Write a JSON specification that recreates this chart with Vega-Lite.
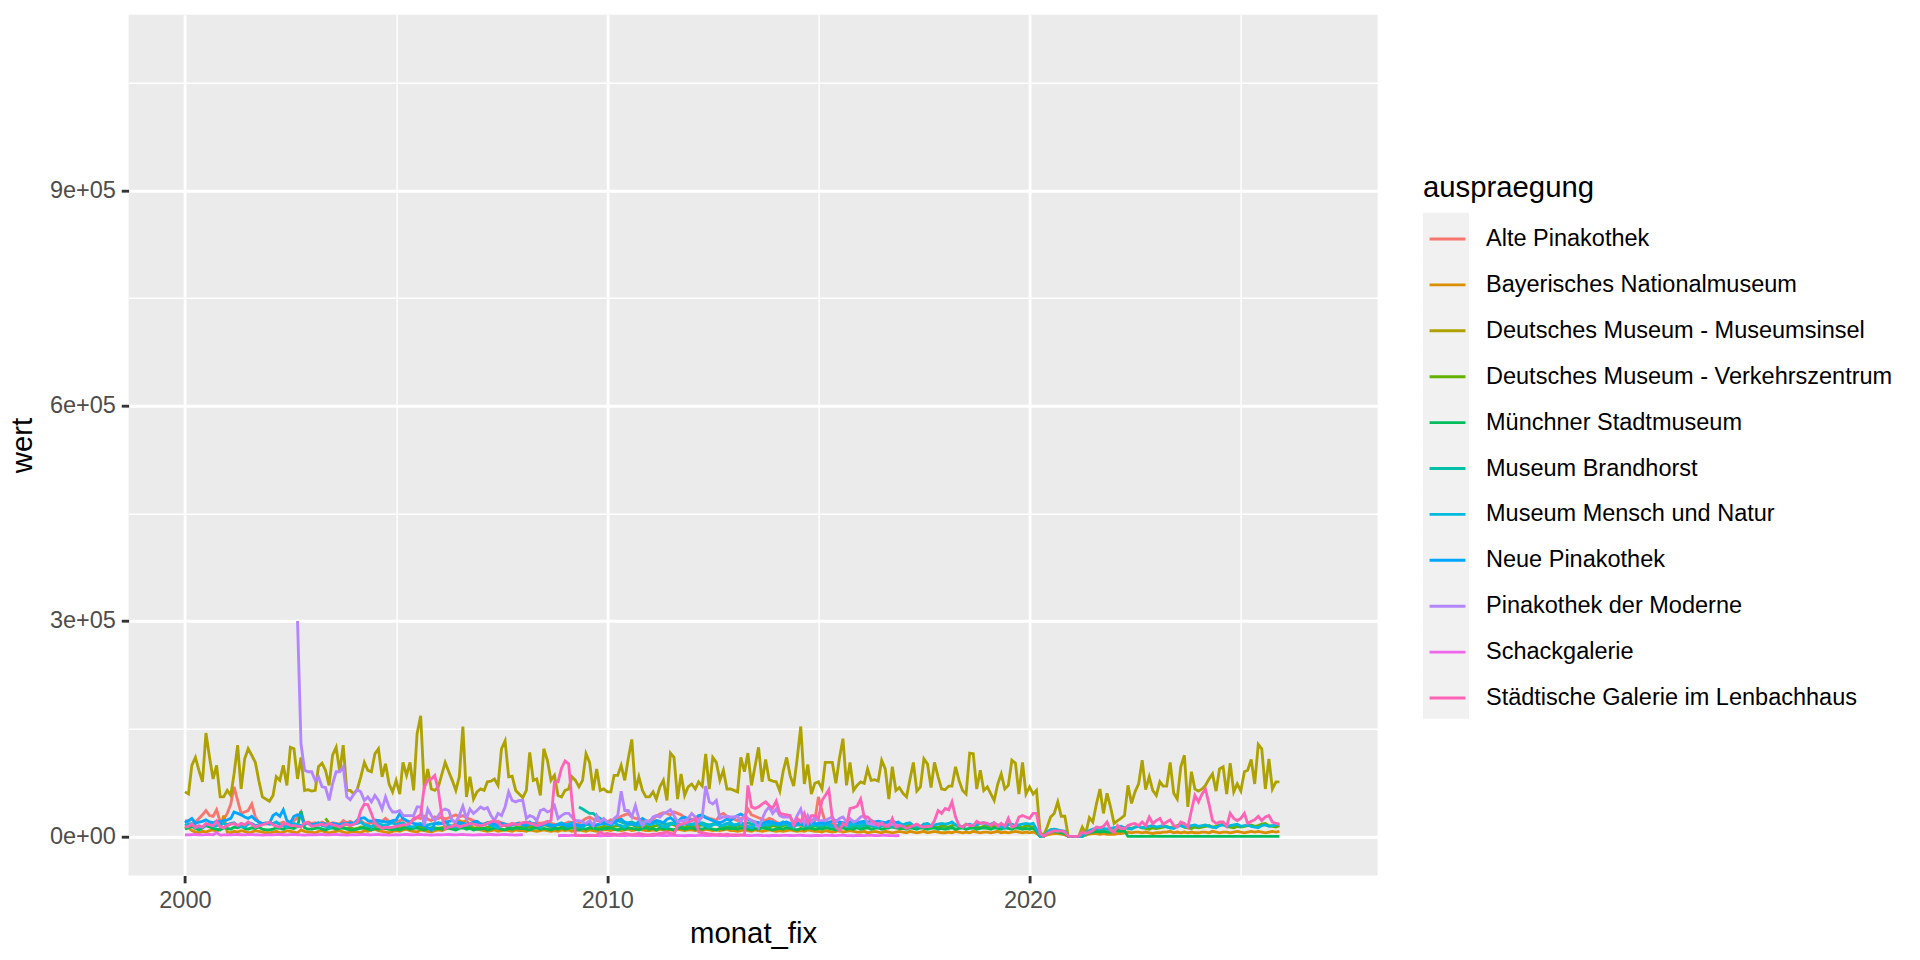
{
  "$schema": "https://vega.github.io/schema/vega-lite/v6.json",
  "width": 1249,
  "height": 860.8,
  "autosize": {"type": "none"},
  "padding": {"left": 128.6, "top": 14.7, "right": 542.4, "bottom": 84.5},
  "background": "white",
  "config": {
    "font": "Liberation Sans",
    "view": {"fill": "#EBEBEB", "stroke": null},
    "axis": {
      "domain": false,
      "gridColor": "white",
      "labelFont": "Liberation Sans",
      "labelFontSize": 23.5,
      "labelColor": "#4D4D4D",
      "tickColor": "#333333",
      "tickSize": 7.33,
      "tickWidth": 2.85,
      "labelPadding": 5.87,
      "titleFont": "Liberation Sans",
      "titleFontSize": 29.3,
      "titleFontWeight": "normal",
      "titleColor": "black",
      "titlePadding": 7.3
    },
    "legend": {"padding": 0, "rowPadding": 0}
  },
  "data": {
    "values": [
      {"m":"2000-01","a":22000,"b":14000,"c":62000,"e":10000,"g":15000,"h":19000,"j":2200,"k":13000},
      {"m":"2000-02","a":21000,"b":12000,"c":59000,"e":12000,"g":17000,"h":22000,"j":2000,"k":14000},
      {"m":"2000-03","a":24000,"b":8000,"c":99000,"e":14000,"g":18000,"h":25000,"j":2400,"k":17000},
      {"m":"2000-04","a":20000,"b":6000,"c":110000,"e":11000,"g":14000,"h":18000,"j":2600,"k":12000},
      {"m":"2000-05","a":25000,"b":5000,"c":92000,"e":9000,"g":13000,"h":20000,"j":2300,"k":15000},
      {"m":"2000-06","a":30000,"b":7000,"c":76000,"e":12000,"g":12000,"h":21000,"j":2100,"k":13000},
      {"m":"2000-07","a":36000,"b":6000,"c":144000,"e":15000,"g":16000,"h":23000,"j":2500,"k":18000},
      {"m":"2000-08","a":29000,"b":8000,"c":110000,"e":13000,"g":17000,"h":20000,"j":2700,"k":16000},
      {"m":"2000-09","a":28000,"b":9000,"c":80000,"e":11000,"g":14000,"h":19000,"j":2200,"k":15000},
      {"m":"2000-10","a":37000,"b":7000,"c":99000,"e":10000,"g":15000,"h":21000,"j":5000,"k":21000},
      {"m":"2000-11","a":20000,"b":10000,"c":55000,"e":9000,"g":16000,"h":20000,"j":1800,"k":13000},
      {"m":"2000-12","a":24000,"b":29000,"c":55000,"e":12000,"g":18000,"h":22000,"j":2100,"k":12000},
      {"m":"2001-01","a":32000,"b":6000,"c":64000,"e":11000,"g":16000,"h":23000,"j":2200,"k":15000},
      {"m":"2001-02","a":45000,"b":5000,"c":57000,"e":10000,"g":18000,"h":25000,"j":2000,"k":17000},
      {"m":"2001-03","a":69000,"b":7000,"c":87000,"e":13000,"g":19000,"h":34000,"j":2400,"k":18000},
      {"m":"2001-04","a":50000,"b":6000,"c":127000,"e":12000,"g":15000,"h":32000,"j":2600,"k":15000},
      {"m":"2001-05","a":32000,"b":8000,"c":66000,"e":14000,"g":14000,"h":30000,"j":2300,"k":18000},
      {"m":"2001-06","a":34000,"b":7000,"c":108000,"e":11000,"g":13000,"h":27000,"j":2100,"k":16000},
      {"m":"2001-07","a":36000,"b":5000,"c":122000,"e":10000,"g":17000,"h":25000,"j":2500,"k":20000},
      {"m":"2001-08","a":45000,"b":6000,"c":113000,"e":12000,"g":18000,"h":28000,"j":2700,"k":17000},
      {"m":"2001-09","a":27000,"b":8000,"c":103000,"e":11000,"g":15000,"h":23000,"j":2200,"k":13000},
      {"m":"2001-10","a":20000,"b":7000,"c":78000,"e":13000,"g":16000,"h":20000,"j":2000,"k":15000},
      {"m":"2001-11","a":18000,"b":6000,"c":55000,"e":10000,"g":17000,"h":18000,"j":1800,"k":16000},
      {"m":"2001-12","a":17000,"b":5000,"c":52000,"e":9000,"g":19000,"h":18000,"j":2100,"k":18000},
      {"m":"2002-01","a":18000,"b":5000,"c":49000,"e":9000,"g":17000,"h":18000,"j":2200,"k":20000},
      {"m":"2002-02","a":17000,"b":6000,"c":57000,"e":10000,"g":18000,"h":29000,"j":2000,"k":16000},
      {"m":"2002-03","a":19000,"b":7000,"c":83000,"e":12000,"g":20000,"h":32000,"j":2400,"k":14000},
      {"m":"2002-04","a":18000,"b":5000,"c":78000,"e":11000,"g":16000,"h":28000,"j":2600,"k":13000},
      {"m":"2002-05","a":20000,"b":6000,"c":99000,"e":10000,"g":15000,"h":37000,"j":2300,"k":17000},
      {"m":"2002-06","a":17000,"b":8000,"c":71000,"e":13000,"g":13000,"h":22000,"j":2100,"k":18000},
      {"m":"2002-07","a":18000,"b":7000,"c":124000,"e":12000,"g":17000,"h":19000,"j":2500,"k":15000},
      {"m":"2002-08","a":22000,"b":6000,"c":122000,"e":11000,"g":18000,"h":28000,"j":2700,"k":15000},
      {"m":"2002-09","a":26000,"b":5000,"c":80000,"e":14000,"g":16000,"h":30000,"i":300000,"j":2200,"k":14000},
      {"m":"2002-10","a":34000,"b":9000,"c":110000,"e":35000,"g":15000,"h":29000,"i":129000,"j":2000,"k":13000},
      {"m":"2002-11","a":18000,"b":7000,"c":64000,"e":12000,"g":17000,"h":17000,"i":92000,"j":1800,"k":19000},
      {"m":"2002-12","a":20000,"b":6000,"c":65000,"e":10000,"g":18000,"h":18000,"i":90000,"j":2100,"k":18000},
      {"m":"2003-01","a":18000,"b":6000,"c":63000,"e":10000,"g":16000,"h":16000,"i":90000,"j":2200,"k":14000},
      {"m":"2003-02","a":19000,"b":5000,"c":64000,"e":11000,"g":17000,"h":17000,"i":78000,"j":2000,"k":15000},
      {"m":"2003-03","a":17000,"b":7000,"c":97000,"e":12000,"g":19000,"h":16000,"i":83000,"j":2400,"k":16000},
      {"m":"2003-04","a":20000,"b":8000,"c":102000,"e":10000,"g":15000,"h":18000,"i":69000,"j":2600,"k":17000},
      {"m":"2003-05","a":18000,"b":6000,"c":92000,"d":25000,"e":9000,"g":14000,"h":17000,"i":68000,"j":2300,"k":15000},
      {"m":"2003-06","a":16000,"b":5000,"c":71000,"d":18000,"e":11000,"g":12000,"h":16000,"i":50000,"j":2100,"k":18000},
      {"m":"2003-07","a":19000,"b":6000,"c":113000,"d":15000,"e":12000,"g":16000,"h":18000,"i":73000,"j":2500,"k":16000},
      {"m":"2003-08","a":18000,"b":7000,"c":124000,"d":14000,"e":10000,"g":17000,"h":17000,"i":90000,"j":2700,"k":15000},
      {"m":"2003-09","a":17000,"b":8000,"c":90000,"d":13000,"e":11000,"g":15000,"h":16000,"i":90000,"j":2200,"k":13000},
      {"m":"2003-10","a":22000,"b":6000,"c":127000,"d":12000,"e":12000,"g":16000,"h":18000,"i":97000,"j":2000,"k":16000},
      {"m":"2003-11","a":19000,"b":5000,"c":64000,"d":11000,"e":10000,"g":17000,"h":17000,"i":55000,"j":1800,"k":17000},
      {"m":"2003-12","a":21000,"b":6000,"c":64000,"d":12000,"e":9000,"g":18000,"h":19000,"i":51000,"j":2100,"k":15000},
      {"m":"2004-01","a":18000,"b":7000,"c":59000,"d":10000,"e":9000,"g":17000,"h":18000,"i":59000,"j":2200,"k":17000},
      {"m":"2004-02","a":20000,"b":6000,"c":66000,"d":11000,"e":10000,"g":18000,"h":23000,"i":65000,"j":2000,"k":20000},
      {"m":"2004-03","a":22000,"b":5000,"c":83000,"d":13000,"e":11000,"g":20000,"h":25000,"i":62000,"j":2400,"k":36000},
      {"m":"2004-04","a":18000,"b":8000,"c":103000,"d":12000,"e":12000,"g":16000,"h":26000,"i":50000,"j":2600,"k":45000},
      {"m":"2004-05","a":17000,"b":7000,"c":92000,"d":11000,"e":10000,"g":15000,"h":22000,"i":55000,"j":2300,"k":44000},
      {"m":"2004-06","a":19000,"b":9000,"c":90000,"d":14000,"e":9000,"g":13000,"h":21000,"i":48000,"j":2100,"k":32000},
      {"m":"2004-07","a":20000,"b":10000,"c":115000,"d":15000,"e":11000,"g":17000,"h":23000,"i":57000,"j":2500,"k":18000},
      {"m":"2004-08","a":22000,"b":8000,"c":122000,"d":14000,"e":10000,"g":18000,"h":22000,"i":50000,"j":2700,"k":14000},
      {"m":"2004-09","a":21000,"b":7000,"c":83000,"d":12000,"e":12000,"g":16000,"h":21000,"i":38000,"j":2200,"k":11000},
      {"m":"2004-10","a":25000,"b":6000,"c":101000,"d":11000,"e":11000,"g":15000,"h":20000,"i":55000,"j":2000,"k":13000},
      {"m":"2004-11","a":21000,"b":5000,"c":73000,"d":10000,"e":10000,"g":17000,"h":20000,"i":41000,"j":1800,"k":12000},
      {"m":"2004-12","a":19000,"b":7000,"c":62000,"d":11000,"e":9000,"g":19000,"h":22000,"i":34000,"j":2100,"k":13000},
      {"m":"2005-01","a":20000,"b":8000,"c":78000,"d":11000,"e":10000,"g":16000,"h":23000,"i":34000,"j":2200,"k":14000},
      {"m":"2005-02","a":22000,"b":7000,"c":59000,"d":12000,"e":9000,"g":18000,"h":32000,"i":36000,"j":2000,"k":15000},
      {"m":"2005-03","a":24000,"b":9000,"c":103000,"d":14000,"e":11000,"g":19000,"h":25000,"i":29000,"j":2400,"k":16000},
      {"m":"2005-04","a":21000,"b":10000,"c":85000,"d":13000,"e":12000,"g":15000,"h":22000,"i":29000,"j":2600,"k":16000},
      {"m":"2005-05","a":20000,"b":8000,"c":103000,"d":12000,"e":10000,"g":14000,"h":20000,"i":29000,"j":2300,"k":18000},
      {"m":"2005-06","a":23000,"b":7000,"c":64000,"d":13000,"e":11000,"g":13000,"h":18000,"i":29000,"j":2100,"k":25000},
      {"m":"2005-07","a":26000,"b":6000,"c":143000,"d":15000,"e":12000,"g":17000,"h":17000,"i":41000,"j":2500,"k":27000},
      {"m":"2005-08","a":25000,"b":9000,"c":168000,"d":14000,"e":10000,"g":18000,"h":16000,"i":41000,"j":2700,"k":30000},
      {"m":"2005-09","a":28000,"b":8000,"c":66000,"d":12000,"e":9000,"g":15000,"h":15000,"i":15000,"j":2200,"k":69000},
      {"m":"2005-10","a":24000,"b":7000,"c":94000,"d":11000,"e":11000,"g":16000,"h":12000,"i":38000,"j":2000,"k":78000},
      {"m":"2005-11","a":22000,"b":6000,"c":66000,"d":10000,"e":12000,"g":17000,"h":8000,"i":29000,"j":1800,"k":80000},
      {"m":"2005-12","a":27000,"b":8000,"c":64000,"d":12000,"e":10000,"g":18000,"h":18000,"i":22000,"j":2100,"k":85000},
      {"m":"2006-01","a":25000,"b":9000,"c":69000,"d":11000,"e":11000,"g":17000,"h":19000,"i":29000,"j":2200,"k":64000},
      {"m":"2006-02","a":27000,"b":8000,"c":87000,"d":12000,"e":10000,"g":18000,"h":18000,"i":36000,"j":2000,"k":27000},
      {"m":"2006-03","a":24000,"b":10000,"c":103000,"d":13000,"e":12000,"g":20000,"h":20000,"i":38000,"j":2400,"k":11000},
      {"m":"2006-04","a":26000,"b":12000,"c":90000,"d":14000,"e":11000,"g":16000,"h":21000,"i":36000,"j":2600,"k":13000},
      {"m":"2006-05","a":28000,"b":14000,"c":78000,"d":12000,"e":10000,"g":14000,"h":22000,"i":22000,"j":2300,"k":14000},
      {"m":"2006-06","a":30000,"b":18000,"c":64000,"d":13000,"e":9000,"g":13000,"h":20000,"i":20000,"j":2100,"k":16000},
      {"m":"2006-07","a":27000,"b":22000,"c":83000,"d":15000,"e":11000,"g":16000,"h":19000,"i":29000,"j":2500,"k":13000},
      {"m":"2006-08","a":29000,"b":20000,"c":153000,"d":14000,"e":12000,"g":17000,"h":18000,"i":42000,"j":2700,"k":15000},
      {"m":"2006-09","a":26000,"b":22000,"c":55000,"d":13000,"e":10000,"g":15000,"h":17000,"i":25000,"j":2200,"k":16000},
      {"m":"2006-10","a":24000,"b":16000,"c":83000,"d":12000,"e":11000,"g":16000,"h":18000,"i":38000,"j":2000,"k":18000},
      {"m":"2006-11","a":22000,"b":12000,"c":52000,"d":11000,"e":9000,"g":18000,"h":20000,"i":32000,"j":1800,"k":17000},
      {"m":"2006-12","a":20000,"b":10000,"c":62000,"d":12000,"e":10000,"g":19000,"h":21000,"i":36000,"j":2100,"k":16000},
      {"m":"2007-01","a":18000,"b":9000,"c":66000,"d":12000,"e":10000,"g":16000,"h":17000,"i":41000,"j":2200,"k":15000},
      {"m":"2007-02","a":17000,"b":8000,"c":64000,"d":11000,"e":11000,"g":17000,"h":16000,"i":38000,"j":2000,"k":16000},
      {"m":"2007-03","a":19000,"b":7000,"c":76000,"d":13000,"e":9000,"g":19000,"h":18000,"i":40000,"j":2400,"k":18000},
      {"m":"2007-04","a":20000,"b":8000,"c":77000,"d":14000,"e":10000,"g":15000,"h":19000,"i":29000,"j":2600,"k":20000},
      {"m":"2007-05","a":18000,"b":9000,"c":80000,"d":15000,"e":12000,"g":14000,"h":17000,"i":22000,"j":2300,"k":22000},
      {"m":"2007-06","a":21000,"b":7000,"c":71000,"d":13000,"e":11000,"g":12000,"h":16000,"i":32000,"j":2100,"k":19000},
      {"m":"2007-07","a":19000,"b":8000,"c":122000,"d":16000,"e":10000,"g":16000,"h":18000,"i":29000,"j":2500,"k":14000},
      {"m":"2007-08","a":17000,"b":9000,"c":133000,"d":15000,"e":9000,"g":17000,"h":17000,"i":41000,"j":2700,"k":16000},
      {"m":"2007-09","a":16000,"b":8000,"c":83000,"d":12000,"e":11000,"g":15000,"h":15000,"i":62000,"j":2200,"k":15000},
      {"m":"2007-10","a":18000,"b":7000,"c":84000,"d":11000,"e":10000,"g":16000,"h":16000,"i":50000,"j":2000,"k":18000},
      {"m":"2007-11","a":17000,"b":9000,"c":64000,"d":12000,"e":12000,"g":17000,"h":17000,"i":48000,"j":1800,"k":16000},
      {"m":"2007-12","a":19000,"b":8000,"c":59000,"d":13000,"e":11000,"g":18000,"h":18000,"i":50000,"j":2100,"k":17000},
      {"m":"2008-01","a":17000,"b":8000,"c":54000,"d":12000,"e":11000,"g":17000,"h":16000,"i":50000,"j":2200,"k":19000},
      {"m":"2008-02","a":19000,"b":7000,"c":64000,"d":13000,"e":10000,"g":18000,"h":15000,"i":25000,"k":20000},
      {"m":"2008-03","a":18000,"b":9000,"c":117000,"d":14000,"e":9000,"g":20000,"h":17000,"i":29000,"k":18000},
      {"m":"2008-04","a":16000,"b":8000,"c":78000,"d":13000,"e":11000,"g":16000,"h":18000,"i":27000,"k":17000},
      {"m":"2008-05","a":20000,"b":7000,"c":80000,"d":12000,"e":12000,"g":15000,"h":16000,"i":22000,"k":15000},
      {"m":"2008-06","a":18000,"b":8000,"c":57000,"d":14000,"e":10000,"g":13000,"h":15000,"i":36000,"k":16000},
      {"m":"2008-07","a":19000,"b":9000,"c":122000,"d":16000,"e":11000,"g":17000,"h":17000,"i":38000,"k":18000},
      {"m":"2008-08","a":21000,"b":8000,"c":106000,"d":15000,"e":10000,"g":18000,"h":16000,"i":34000,"k":20000},
      {"m":"2008-09","a":18000,"b":7000,"c":78000,"d":13000,"e":9000,"g":16000,"h":14000,"i":36000,"k":22000},
      {"m":"2008-10","a":17000,"b":8000,"c":85000,"d":12000,"e":11000,"g":15000,"h":15000,"i":43000,"k":76000},
      {"m":"2008-11","a":16000,"b":7000,"c":57000,"d":11000,"e":10000,"g":17000,"h":16000,"i":25000,"j":900,"k":76000},
      {"m":"2008-12","a":18000,"b":9000,"c":55000,"d":13000,"e":12000,"g":19000,"h":17000,"i":29000,"j":1200,"k":95000},
      {"m":"2009-01","a":18000,"b":8000,"c":64000,"d":12000,"e":10000,"g":16000,"h":15000,"i":32000,"j":1200,"k":105000},
      {"m":"2009-02","a":20000,"b":9000,"c":66000,"d":13000,"e":11000,"g":17000,"h":14000,"i":32000,"j":1000,"k":101000},
      {"m":"2009-03","a":19000,"b":7000,"c":83000,"d":15000,"e":12000,"g":19000,"h":16000,"i":27000,"j":1300,"k":50000},
      {"m":"2009-04","a":17000,"b":8000,"c":78000,"d":14000,"e":10000,"g":15000,"h":17000,"i":22000,"j":1400,"k":1500},
      {"m":"2009-05","a":18000,"b":9000,"c":69000,"d":13000,"e":9000,"f":41000,"g":14000,"h":15000,"i":22000,"j":1200,"k":1200},
      {"m":"2009-06","a":22000,"b":8000,"c":78000,"d":14000,"e":11000,"f":38000,"g":13000,"h":16000,"i":20000,"j":1100,"k":1000},
      {"m":"2009-07","a":25000,"b":7000,"c":115000,"d":17000,"e":10000,"f":35000,"g":16000,"h":18000,"i":18000,"j":1300,"k":1300},
      {"m":"2009-08","a":27000,"b":9000,"c":103000,"d":16000,"e":12000,"f":32000,"g":17000,"h":17000,"i":22000,"j":1500,"k":1100},
      {"m":"2009-09","a":24000,"b":8000,"c":64000,"d":13000,"e":11000,"f":32000,"g":15000,"h":15000,"i":15000,"j":1200,"k":1000},
      {"m":"2009-10","a":22000,"b":7000,"c":94000,"d":12000,"e":10000,"f":28000,"g":16000,"h":16000,"i":29000,"j":1100,"k":1400},
      {"m":"2009-11","a":21000,"b":8000,"c":64000,"d":12000,"e":9000,"f":25000,"g":17000,"h":17000,"i":20000,"j":900,"k":6000},
      {"m":"2009-12","a":20000,"b":9000,"c":66000,"d":14000,"e":11000,"f":22000,"g":18000,"h":18000,"i":25000,"j":1200,"k":3000},
      {"m":"2010-01","a":20000,"b":9000,"c":62000,"d":13000,"e":11000,"f":20000,"g":17000,"h":17000,"i":20000,"j":1200,"k":4000},
      {"m":"2010-02","a":23000,"b":8000,"c":62000,"d":12000,"e":12000,"f":19000,"g":18000,"h":16000,"i":18000,"j":1000,"k":3000},
      {"m":"2010-03","a":22000,"b":10000,"c":85000,"d":14000,"e":10000,"f":21000,"g":20000,"h":19000,"i":25000,"j":1300,"k":3000},
      {"m":"2010-04","a":25000,"b":9000,"c":85000,"d":15000,"e":9000,"f":22000,"g":16000,"h":22000,"i":29000,"j":1400,"k":2000},
      {"m":"2010-05","a":28000,"b":8000,"c":99000,"d":14000,"e":11000,"f":20000,"g":15000,"h":24000,"i":63000,"j":1200,"k":3000},
      {"m":"2010-06","a":30000,"b":9000,"c":78000,"d":13000,"e":10000,"f":18000,"g":13000,"h":20000,"i":36000,"j":1100,"k":4000},
      {"m":"2010-07","a":32000,"b":10000,"c":108000,"d":16000,"e":12000,"f":19000,"g":17000,"h":18000,"i":36000,"j":1300,"k":3000},
      {"m":"2010-08","a":27000,"b":8000,"c":135000,"d":17000,"e":11000,"f":20000,"g":18000,"h":17000,"i":27000,"j":1500,"k":2000},
      {"m":"2010-09","a":25000,"b":9000,"c":64000,"d":14000,"e":10000,"f":18000,"g":16000,"h":16000,"i":43000,"j":1200,"k":3000},
      {"m":"2010-10","a":24000,"b":10000,"c":83000,"d":13000,"e":9000,"f":17000,"g":15000,"h":21000,"i":25000,"j":1100,"k":4000},
      {"m":"2010-11","a":23000,"b":9000,"c":64000,"d":12000,"e":11000,"f":19000,"g":17000,"h":25000,"i":15000,"j":900,"k":3000},
      {"m":"2010-12","a":21000,"b":8000,"c":55000,"d":14000,"e":12000,"f":18000,"g":19000,"h":22000,"i":22000,"j":1200,"k":2000},
      {"m":"2011-01","a":22000,"b":8000,"c":55000,"d":13000,"e":10000,"f":17000,"g":16000,"h":18000,"i":20000,"j":1200,"k":2000},
      {"m":"2011-02","a":24000,"b":9000,"c":62000,"d":14000,"e":11000,"f":18000,"g":18000,"h":20000,"i":27000,"j":1000,"k":3000},
      {"m":"2011-03","a":28000,"b":8000,"c":52000,"d":15000,"e":9000,"f":19000,"g":19000,"h":22000,"i":29000,"j":1300,"k":3000},
      {"m":"2011-04","a":31000,"b":10000,"c":69000,"d":16000,"e":12000,"f":20000,"g":15000,"h":21000,"i":27000,"j":1400,"k":4000},
      {"m":"2011-05","a":33000,"b":9000,"c":78000,"d":14000,"e":10000,"f":18000,"g":14000,"h":19000,"i":32000,"j":1200,"k":5000},
      {"m":"2011-06","a":32000,"b":8000,"c":50000,"d":13000,"e":11000,"f":17000,"g":13000,"h":24000,"i":34000,"j":1100,"k":6000},
      {"m":"2011-07","a":30000,"b":9000,"c":116000,"d":17000,"e":10000,"f":18000,"g":17000,"h":26000,"i":37000,"j":1300,"k":4000},
      {"m":"2011-08","a":34000,"b":8000,"c":110000,"d":16000,"e":9000,"f":19000,"g":18000,"h":22000,"i":29000,"j":1500,"k":3000},
      {"m":"2011-09","a":32000,"b":10000,"c":52000,"d":14000,"e":11000,"f":17000,"g":15000,"h":20000,"i":20000,"j":1200,"k":15000},
      {"m":"2011-10","a":30000,"b":9000,"c":87000,"d":13000,"e":12000,"f":16000,"g":16000,"h":25000,"i":22000,"j":1100,"k":17000},
      {"m":"2011-11","a":26000,"b":8000,"c":57000,"d":12000,"e":10000,"f":18000,"g":17000,"h":27000,"i":22000,"j":900,"k":18000},
      {"m":"2011-12","a":25000,"b":9000,"c":69000,"d":15000,"e":11000,"f":17000,"g":18000,"h":24000,"i":25000,"j":1200,"k":20000},
      {"m":"2012-01","a":24000,"b":9000,"c":73000,"d":14000,"e":12000,"f":16000,"g":17000,"h":22000,"i":32000,"j":1200,"k":22000},
      {"m":"2012-02","a":22000,"b":8000,"c":66000,"d":13000,"e":10000,"f":17000,"g":18000,"h":25000,"i":27000,"j":1000,"k":25000},
      {"m":"2012-03","a":26000,"b":9000,"c":76000,"d":15000,"e":11000,"f":18000,"g":20000,"h":29000,"i":21000,"j":1300,"k":6000},
      {"m":"2012-04","a":28000,"b":8000,"c":70000,"d":16000,"e":10000,"f":19000,"g":16000,"h":30000,"i":27000,"j":1400,"k":5000},
      {"m":"2012-05","a":27000,"b":10000,"c":115000,"d":15000,"e":12000,"f":17000,"g":15000,"h":26000,"i":70000,"j":1200,"k":4000},
      {"m":"2012-06","a":25000,"b":9000,"c":66000,"d":14000,"e":11000,"f":16000,"g":13000,"h":24000,"i":48000,"j":1100,"k":3000},
      {"m":"2012-07","a":24000,"b":8000,"c":110000,"d":17000,"e":10000,"f":17000,"g":16000,"h":22000,"i":45000,"j":1300,"k":3000},
      {"m":"2012-08","a":22000,"b":9000,"c":103000,"d":18000,"e":9000,"f":18000,"g":17000,"h":20000,"i":50000,"j":1500,"k":2000},
      {"m":"2012-09","a":30000,"b":8000,"c":78000,"d":15000,"e":11000,"f":16000,"g":15000,"h":19000,"i":25000,"j":1200,"k":3000},
      {"m":"2012-10","a":32000,"b":9000,"c":92000,"d":13000,"e":10000,"f":15000,"g":16000,"h":21000,"i":27000,"j":1100,"k":2000},
      {"m":"2012-11","a":28000,"b":10000,"c":66000,"d":12000,"e":12000,"f":17000,"g":18000,"h":24000,"i":28000,"j":900,"k":3000},
      {"m":"2012-12","a":25000,"b":8000,"c":66000,"d":14000,"e":11000,"f":16000,"g":19000,"h":22000,"i":27000,"j":1200,"k":2000},
      {"m":"2013-01","a":24000,"b":8000,"c":64000,"d":13000,"e":11000,"f":15000,"g":16000,"h":26000,"i":27000,"j":1200,"k":2000},
      {"m":"2013-02","a":22000,"b":7000,"c":62000,"d":14000,"e":10000,"f":16000,"g":17000,"h":29000,"i":28000,"j":1000,"k":2000},
      {"m":"2013-03","a":25000,"b":8000,"c":110000,"d":16000,"e":12000,"f":17000,"g":19000,"h":31000,"i":20000,"j":1300,"k":2000},
      {"m":"2013-04","a":27000,"b":9000,"c":90000,"d":15000,"e":11000,"f":18000,"g":15000,"h":28000,"i":29000,"j":1400,"k":2000},
      {"m":"2013-05","a":38000,"b":8000,"c":116000,"d":14000,"e":10000,"f":19000,"g":14000,"h":24000,"i":25000,"j":1200,"k":71000},
      {"m":"2013-06","a":30000,"b":7000,"c":71000,"d":13000,"e":9000,"f":17000,"g":12000,"h":22000,"i":22000,"j":1100,"k":41000},
      {"m":"2013-07","a":28000,"b":9000,"c":97000,"d":16000,"e":11000,"f":16000,"g":16000,"h":20000,"i":20000,"j":1300,"k":39000},
      {"m":"2013-08","a":26000,"b":8000,"c":124000,"d":17000,"e":10000,"f":17000,"g":17000,"h":19000,"i":12000,"j":1500,"k":41000},
      {"m":"2013-09","a":24000,"b":7000,"c":76000,"d":15000,"e":12000,"f":18000,"g":15000,"h":18000,"i":24000,"j":1200,"k":45000},
      {"m":"2013-10","a":22000,"b":8000,"c":107000,"d":14000,"e":11000,"f":16000,"g":16000,"h":20000,"i":35000,"j":1100,"k":48000},
      {"m":"2013-11","a":25000,"b":9000,"c":79000,"d":13000,"e":10000,"f":15000,"g":17000,"h":21000,"i":41000,"j":900,"k":43000},
      {"m":"2013-12","a":23000,"b":8000,"c":77000,"d":15000,"e":9000,"f":17000,"g":20000,"h":19000,"i":32000,"j":1200,"k":39000},
      {"m":"2014-01","a":20000,"b":7000,"c":76000,"d":14000,"e":10000,"f":16000,"g":17000,"h":18000,"i":38000,"j":1200,"k":49000},
      {"m":"2014-02","a":18000,"b":8000,"c":63000,"d":13000,"e":11000,"f":15000,"g":18000,"h":17000,"i":29000,"j":1000,"k":32000},
      {"m":"2014-03","a":17000,"b":7000,"c":90000,"d":15000,"e":10000,"f":17000,"g":20000,"h":19000,"i":27000,"j":1300,"k":31000},
      {"m":"2014-04","a":19000,"b":8000,"c":110000,"d":16000,"e":12000,"f":18000,"g":16000,"h":20000,"i":27000,"j":1400,"k":30000},
      {"m":"2014-05","a":18000,"b":9000,"c":85000,"d":15000,"e":11000,"f":16000,"g":15000,"h":18000,"i":27000,"j":1200,"k":29000},
      {"m":"2014-06","a":17000,"b":8000,"c":70000,"d":14000,"e":10000,"f":15000,"g":13000,"h":17000,"i":18000,"j":1100,"k":15000},
      {"m":"2014-07","a":16000,"b":7000,"c":108000,"d":18000,"e":9000,"f":16000,"g":17000,"h":19000,"i":29000,"j":1300,"k":25000},
      {"m":"2014-08","a":15000,"b":8000,"c":153000,"d":17000,"e":11000,"f":17000,"g":18000,"h":18000,"i":38000,"j":1500,"k":20000},
      {"m":"2014-09","a":17000,"b":7000,"c":73000,"d":14000,"e":10000,"f":15000,"g":16000,"h":17000,"i":18000,"j":1200,"k":32000},
      {"m":"2014-10","a":18000,"b":9000,"c":100000,"d":13000,"e":12000,"f":14000,"g":15000,"h":18000,"i":29000,"j":1100,"k":18000},
      {"m":"2014-11","a":20000,"b":8000,"c":59000,"d":12000,"e":11000,"f":16000,"g":17000,"h":19000,"i":20000,"j":900,"k":29000},
      {"m":"2014-12","a":22000,"b":7000,"c":74000,"d":15000,"e":10000,"f":15000,"g":19000,"h":17000,"i":27000,"j":1200,"k":29000},
      {"m":"2015-01","a":55000,"b":7000,"c":76000,"d":14000,"e":11000,"f":15000,"g":16000,"h":18000,"i":22000,"j":1200,"k":25000},
      {"m":"2015-02","a":35000,"b":6000,"c":66000,"d":13000,"e":10000,"f":14000,"g":17000,"h":19000,"i":22000,"j":1000,"k":50000},
      {"m":"2015-03","a":20000,"b":8000,"c":103000,"d":16000,"e":12000,"f":16000,"g":19000,"h":17000,"i":22000,"j":1300,"k":57000},
      {"m":"2015-04","a":18000,"b":7000,"c":103000,"d":15000,"e":11000,"f":17000,"g":15000,"h":20000,"i":25000,"j":1400,"k":65000},
      {"m":"2015-05","a":17000,"b":6000,"c":103000,"d":14000,"e":10000,"f":15000,"g":14000,"h":21000,"i":27000,"j":1200,"k":25000},
      {"m":"2015-06","a":16000,"b":7000,"c":74000,"d":13000,"e":9000,"f":14000,"g":13000,"h":22000,"i":20000,"j":1100,"k":13000},
      {"m":"2015-07","a":15000,"b":8000,"c":108000,"d":17000,"e":11000,"f":15000,"g":16000,"h":20000,"i":25000,"j":1300,"k":8000},
      {"m":"2015-08","a":17000,"b":6000,"c":136000,"d":18000,"e":12000,"f":16000,"g":17000,"h":19000,"i":27000,"j":1500,"k":18000},
      {"m":"2015-09","a":16000,"b":7000,"c":71000,"d":15000,"e":10000,"f":14000,"g":15000,"h":18000,"i":20000,"j":1200,"k":15000},
      {"m":"2015-10","a":18000,"b":8000,"c":103000,"d":14000,"e":11000,"f":13000,"g":16000,"h":20000,"i":25000,"j":1100,"k":39000},
      {"m":"2015-11","a":17000,"b":7000,"c":64000,"d":13000,"e":10000,"f":15000,"g":17000,"h":21000,"i":20000,"j":900,"k":40000},
      {"m":"2015-12","a":16000,"b":6000,"c":71000,"d":15000,"e":12000,"f":14000,"g":18000,"h":19000,"i":22000,"j":1200,"k":42000},
      {"m":"2016-01","a":15000,"b":6000,"c":76000,"d":14000,"e":10000,"f":14000,"g":17000,"h":20000,"i":27000,"j":1200,"k":52000},
      {"m":"2016-02","a":14000,"b":7000,"c":74000,"d":13000,"e":11000,"f":15000,"g":18000,"h":21000,"i":29000,"j":1000,"k":27000},
      {"m":"2016-03","a":16000,"b":5000,"c":94000,"d":15000,"e":12000,"f":16000,"g":20000,"h":19000,"i":18000,"j":1300,"k":27000},
      {"m":"2016-04","a":15000,"b":6000,"c":78000,"d":16000,"e":10000,"f":15000,"g":16000,"h":22000,"i":17000,"j":1400,"k":22000},
      {"m":"2016-05","a":14000,"b":7000,"c":79000,"d":14000,"e":11000,"f":14000,"g":15000,"h":20000,"i":16000,"j":1200,"k":19000},
      {"m":"2016-06","a":13000,"b":6000,"c":77000,"d":13000,"e":12000,"f":13000,"g":13000,"h":21000,"i":18000,"j":1100,"k":15000},
      {"m":"2016-07","a":15000,"b":5000,"c":106000,"d":17000,"e":10000,"f":15000,"g":17000,"h":20000,"i":17000,"j":1300,"k":19000},
      {"m":"2016-08","a":14000,"b":7000,"c":94000,"d":16000,"e":11000,"f":16000,"g":18000,"h":19000,"i":15000,"j":1500,"k":14000},
      {"m":"2016-09","a":13000,"b":6000,"c":52000,"d":14000,"e":12000,"f":14000,"g":16000,"h":21000,"i":16000,"j":1200,"k":14000},
      {"m":"2016-10","a":14000,"b":5000,"c":97000,"d":13000,"e":14000,"f":13000,"g":15000,"h":20000,"i":17000,"j":1100,"k":25000},
      {"m":"2016-11","a":13000,"b":6000,"c":64000,"d":12000,"e":12000,"f":15000,"g":17000,"h":19000,"i":16000,"j":900,"k":13000},
      {"m":"2016-12","a":14000,"b":7000,"c":68000,"d":14000,"e":11000,"f":14000,"g":19000,"h":20000,"i":15000,"j":1200,"k":15000},
      {"m":"2017-01","b":6000,"c":60000,"d":13000,"e":11000,"g":16000,"k":14000},
      {"m":"2017-02","b":5000,"c":55000,"d":14000,"e":10000,"g":18000,"k":11000},
      {"m":"2017-03","b":7000,"c":78000,"d":16000,"e":12000,"g":19000,"k":13000},
      {"m":"2017-04","b":6000,"c":103000,"d":15000,"e":11000,"g":15000,"k":15000},
      {"m":"2017-05","b":5000,"c":63000,"d":14000,"e":10000,"g":14000,"k":17000},
      {"m":"2017-06","b":6000,"c":69000,"d":13000,"e":12000,"g":13000,"k":14000},
      {"m":"2017-07","b":7000,"c":108000,"d":17000,"e":11000,"g":17000,"k":13000},
      {"m":"2017-08","b":5000,"c":101000,"d":16000,"e":10000,"g":18000,"k":14000},
      {"m":"2017-09","b":6000,"c":68000,"d":14000,"e":11000,"g":15000,"k":14000},
      {"m":"2017-10","b":7000,"c":103000,"d":13000,"e":12000,"g":16000,"k":22000},
      {"m":"2017-11","b":6000,"c":83000,"d":12000,"e":10000,"g":17000,"k":36000},
      {"m":"2017-12","b":5000,"c":66000,"d":15000,"e":11000,"g":18000,"k":32000},
      {"m":"2018-01","b":5000,"c":65000,"d":14000,"e":10000,"g":17000,"k":39000},
      {"m":"2018-02","b":6000,"c":70000,"d":13000,"e":11000,"g":18000,"k":37000},
      {"m":"2018-03","b":5000,"c":70000,"d":15000,"e":12000,"g":20000,"k":48000},
      {"m":"2018-04","b":7000,"c":97000,"d":16000,"e":10000,"g":16000,"k":27000},
      {"m":"2018-05","b":6000,"c":78000,"d":14000,"e":11000,"g":15000,"k":15000},
      {"m":"2018-06","b":5000,"c":64000,"d":13000,"e":12000,"g":13000,"k":13000},
      {"m":"2018-07","b":6000,"c":59000,"d":17000,"e":10000,"g":16000,"k":17000},
      {"m":"2018-08","b":5000,"c":116000,"d":16000,"e":11000,"g":17000,"k":15000},
      {"m":"2018-09","b":7000,"c":115000,"d":14000,"e":12000,"g":15000,"k":15000},
      {"m":"2018-10","b":6000,"c":66000,"d":13000,"e":10000,"g":16000,"k":21000},
      {"m":"2018-11","b":5000,"c":92000,"d":12000,"e":11000,"g":18000,"k":18000},
      {"m":"2018-12","b":6000,"c":64000,"d":14000,"e":12000,"g":19000,"k":19000},
      {"m":"2019-01","b":6000,"c":69000,"d":13000,"e":11000,"g":16000,"k":18000},
      {"m":"2019-02","b":5000,"c":59000,"d":14000,"e":10000,"g":17000,"k":15000},
      {"m":"2019-03","b":6000,"c":50000,"d":15000,"e":12000,"g":19000,"k":19000},
      {"m":"2019-04","b":7000,"c":73000,"d":16000,"e":11000,"g":15000,"k":14000},
      {"m":"2019-05","b":5000,"c":87000,"d":14000,"e":10000,"g":14000,"k":18000},
      {"m":"2019-06","b":6000,"c":66000,"d":13000,"e":12000,"g":12000,"k":14000},
      {"m":"2019-07","b":5000,"c":71000,"d":17000,"e":11000,"g":16000,"k":25000},
      {"m":"2019-08","b":6000,"c":106000,"d":16000,"e":10000,"g":17000,"k":13000},
      {"m":"2019-09","b":7000,"c":102000,"d":14000,"e":12000,"g":15000,"k":15000},
      {"m":"2019-10","b":6000,"c":59000,"d":13000,"e":11000,"g":16000,"k":27000},
      {"m":"2019-11","b":5000,"c":103000,"d":12000,"e":10000,"g":17000,"k":29000},
      {"m":"2019-12","b":6000,"c":59000,"d":15000,"e":11000,"g":18000,"k":27000},
      {"m":"2020-01","b":5000,"c":69000,"d":14000,"e":10000,"g":17000,"k":25000},
      {"m":"2020-02","b":6000,"c":59000,"d":13000,"e":11000,"g":18000,"k":32000},
      {"m":"2020-03","b":4000,"c":64000,"d":8000,"e":7000,"g":10000,"k":32000},
      {"m":"2020-04","b":0,"c":6000,"d":0,"e":0,"g":0,"k":4000},
      {"m":"2020-05","b":0,"c":1000,"d":0,"e":0,"g":0,"k":0},
      {"m":"2020-06","b":2000,"c":13000,"d":5000,"e":4000,"g":6000,"k":4000},
      {"m":"2020-07","b":3000,"c":27000,"d":9000,"e":6000,"g":9000,"k":6000},
      {"m":"2020-08","b":4000,"c":32000,"d":10000,"e":7000,"g":10000,"k":8000},
      {"m":"2020-09","b":4000,"c":48000,"d":8000,"e":6000,"g":9000,"k":7000},
      {"m":"2020-10","b":3000,"c":28000,"d":6000,"e":5000,"g":8000,"k":8000},
      {"m":"2020-11","b":2000,"c":28000,"d":4000,"e":4000,"g":7000,"k":6000},
      {"m":"2020-12","b":0,"c":0,"d":0,"e":0,"g":0,"k":0},
      {"m":"2021-01","b":0,"c":0,"d":0,"e":0,"g":0,"k":0},
      {"m":"2021-02","b":0,"c":0,"d":0,"e":0,"g":0,"k":0},
      {"m":"2021-03","b":0,"c":0,"d":0,"e":0,"g":0,"k":0},
      {"m":"2021-04","b":0,"c":13000,"d":0,"e":0,"g":0,"k":6000},
      {"m":"2021-05","b":2000,"c":4000,"d":3000,"e":3000,"g":5000,"k":4000},
      {"m":"2021-06","b":3000,"c":26000,"d":6000,"e":5000,"g":8000,"k":6000},
      {"m":"2021-07","b":4000,"c":20000,"d":9000,"e":6000,"g":10000,"k":8000},
      {"m":"2021-08","b":4000,"c":45000,"d":10000,"e":7000,"g":11000,"k":13000},
      {"m":"2021-09","b":3000,"c":66000,"d":8000,"e":6000,"g":10000,"k":12000},
      {"m":"2021-10","b":4000,"c":32000,"d":7000,"e":7000,"g":11000,"k":14000},
      {"m":"2021-11","b":3000,"c":60000,"d":6000,"e":6000,"g":10000,"k":20000},
      {"m":"2021-12","b":3000,"c":41000,"d":7000,"e":6000,"g":11000,"k":8000},
      {"m":"2022-01","b":3000,"c":18000,"d":8000,"e":7000,"g":12000,"k":6000},
      {"m":"2022-02","b":4000,"c":22000,"d":9000,"e":8000,"g":13000,"k":15000},
      {"m":"2022-03","b":4000,"c":25000,"d":10000,"e":7000,"g":14000,"k":11000},
      {"m":"2022-04","b":5000,"c":29000,"d":11000,"e":8000,"g":12000,"k":11000},
      {"m":"2022-05","b":6000,"c":71000,"d":12000,"e":0,"g":11000,"k":15000},
      {"m":"2022-06","b":5000,"c":46000,"d":11000,"e":0,"g":10000,"k":17000},
      {"m":"2022-07","b":6000,"c":62000,"d":13000,"e":0,"g":13000,"k":18000},
      {"m":"2022-08","b":6000,"c":73000,"d":14000,"e":0,"g":14000,"k":15000},
      {"m":"2022-09","b":5000,"c":106000,"d":12000,"e":0,"g":12000,"k":20000},
      {"m":"2022-10","b":6000,"c":65000,"d":11000,"e":0,"g":13000,"k":15000},
      {"m":"2022-11","b":5000,"c":83000,"d":10000,"e":0,"g":14000,"k":27000},
      {"m":"2022-12","b":4000,"c":64000,"d":12000,"e":0,"g":15000,"k":18000},
      {"m":"2023-01","b":5000,"c":57000,"d":11000,"e":0,"g":13000,"k":22000},
      {"m":"2023-02","b":5000,"c":76000,"d":12000,"e":0,"g":14000,"k":25000},
      {"m":"2023-03","b":6000,"c":70000,"d":13000,"e":0,"g":15000,"k":17000},
      {"m":"2023-04","b":6000,"c":70000,"d":14000,"e":0,"g":13000,"k":20000},
      {"m":"2023-05","b":7000,"c":103000,"d":12000,"e":0,"g":12000,"k":23000},
      {"m":"2023-06","b":5000,"c":60000,"d":13000,"e":0,"g":11000,"k":15000},
      {"m":"2023-07","b":6000,"c":52000,"d":15000,"e":0,"g":14000,"k":13000},
      {"m":"2023-08","b":5000,"c":97000,"d":16000,"e":0,"g":15000,"k":20000},
      {"m":"2023-09","b":6000,"c":113000,"d":13000,"e":0,"g":13000,"k":18000},
      {"m":"2023-10","b":5000,"c":41000,"d":12000,"e":0,"g":14000,"k":13000},
      {"m":"2023-11","b":6000,"c":90000,"d":11000,"e":0,"g":15000,"k":36000},
      {"m":"2023-12","b":5000,"c":66000,"d":13000,"e":0,"g":16000,"k":57000},
      {"m":"2024-01","b":5000,"c":63000,"d":12000,"e":0,"g":14000,"k":48000},
      {"m":"2024-02","b":6000,"c":66000,"d":13000,"e":0,"g":15000,"k":59000},
      {"m":"2024-03","b":6000,"c":71000,"d":14000,"e":0,"g":16000,"k":66000},
      {"m":"2024-04","b":5000,"c":80000,"d":15000,"e":0,"g":14000,"k":45000},
      {"m":"2024-05","b":7000,"c":87000,"d":13000,"e":0,"g":13000,"k":22000},
      {"m":"2024-06","b":6000,"c":63000,"d":14000,"e":0,"g":12000,"k":18000},
      {"m":"2024-07","b":5000,"c":94000,"d":16000,"e":0,"g":15000,"k":20000},
      {"m":"2024-08","b":6000,"c":97000,"d":17000,"e":0,"g":16000,"k":20000},
      {"m":"2024-09","b":6000,"c":59000,"d":14000,"e":0,"g":14000,"k":14000},
      {"m":"2024-10","b":5000,"c":102000,"d":13000,"e":0,"g":15000,"k":32000},
      {"m":"2024-11","b":6000,"c":62000,"d":12000,"e":0,"g":16000,"k":25000},
      {"m":"2024-12","b":7000,"c":73000,"d":14000,"e":0,"g":17000,"k":22000},
      {"m":"2025-01","b":6000,"c":63000,"d":13000,"e":0,"g":14000,"k":25000},
      {"m":"2025-02","b":5000,"c":90000,"d":14000,"e":0,"g":15000,"k":32000},
      {"m":"2025-03","b":6000,"c":92000,"d":15000,"e":0,"g":16000,"k":18000},
      {"m":"2025-04","b":7000,"c":107000,"d":16000,"e":0,"g":14000,"k":21000},
      {"m":"2025-05","b":6000,"c":73000,"d":14000,"e":0,"g":13000,"k":23000},
      {"m":"2025-06","b":7000,"c":128000,"d":15000,"e":0,"g":12000,"k":28000},
      {"m":"2025-07","b":6000,"c":122000,"d":17000,"e":0,"g":15000,"k":22000},
      {"m":"2025-08","b":5000,"c":66000,"d":18000,"e":0,"g":16000,"k":27000},
      {"m":"2025-09","b":6000,"c":108000,"d":15000,"e":0,"g":14000,"k":29000},
      {"m":"2025-10","b":7000,"c":66000,"d":14000,"e":0,"g":15000,"k":20000},
      {"m":"2025-11","b":6000,"c":76000,"d":13000,"e":0,"g":16000,"k":18000},
      {"m":"2025-12","b":7000,"c":76000,"d":15000,"e":0,"g":17000,"k":17000}
    ]
  },
  "layer": [
    {
      "data": {
        "values": [
          {"bg": "Alte Pinakothek"},
          {"bg": "Bayerisches Nationalmuseum"},
          {"bg": "Deutsches Museum - Museumsinsel"},
          {"bg": "Deutsches Museum - Verkehrszentrum"},
          {"bg": "Münchner Stadtmuseum"},
          {"bg": "Museum Brandhorst"},
          {"bg": "Museum Mensch und Natur"},
          {"bg": "Neue Pinakothek"},
          {"bg": "Pinakothek der Moderne"},
          {"bg": "Schackgalerie"},
          {"bg": "Städtische Galerie im Lenbachhaus"}
        ]
      },
      "mark": {"type": "point", "filled": true, "strokeWidth": 0},
      "encoding": {
        "fill": {
          "field": "bg",
          "type": "nominal",
          "scale": {"range": ["#EBEBEB"]},
          "legend": {
            "orient": "none",
            "legendX": 1294.4,
            "legendY": 198,
            "title": null,
            "symbolType": "square",
            "symbolSize": 2116,
            "symbolStrokeWidth": 0,
            "labelExpr": "''",
            "labelFontSize": 10,
            "rowPadding": 0,
            "padding": 0
          }
        }
      }
    },
    {
      "data": {"values": []},
      "mark": {"type": "line"},
      "encoding": {
        "x": {
          "field": "m",
          "type": "temporal",
          "scale": {
            "type": "utc",
            "domain": [{"year": 1998, "month": 9, "date": 1, "utc": true}, {"year": 2028, "month": 3, "date": 29, "utc": true}],
            "nice": false
          },
          "axis": {
            "orient": "top",
            "values": [{"year": 2005, "utc": true}, {"year": 2015, "utc": true}, {"year": 2025, "utc": true}],
            "grid": true,
            "gridWidth": 1.42,
            "labels": false,
            "ticks": false,
            "title": null
          }
        },
        "y": {
          "field": "wert",
          "type": "quantitative",
          "scale": {"domain": [-54500, 1144500], "nice": false, "zero": false},
          "axis": {
            "orient": "right",
            "values": [150000, 450000, 750000, 1050000],
            "grid": true,
            "gridWidth": 1.42,
            "labels": false,
            "ticks": false,
            "title": null
          }
        }
      }
    },
    {
      "transform": [
        {"fold": ["a", "b", "c", "d", "e", "f", "g", "h", "i", "j", "k"], "as": ["key", "wert"]},
        {
          "lookup": "key",
          "from": {
            "data": {
              "values": [
                {"key": "a", "auspraegung": "Alte Pinakothek"},
                {"key": "b", "auspraegung": "Bayerisches Nationalmuseum"},
                {"key": "c", "auspraegung": "Deutsches Museum - Museumsinsel"},
                {"key": "d", "auspraegung": "Deutsches Museum - Verkehrszentrum"},
                {"key": "e", "auspraegung": "Münchner Stadtmuseum"},
                {"key": "f", "auspraegung": "Museum Brandhorst"},
                {"key": "g", "auspraegung": "Museum Mensch und Natur"},
                {"key": "h", "auspraegung": "Neue Pinakothek"},
                {"key": "i", "auspraegung": "Pinakothek der Moderne"},
                {"key": "j", "auspraegung": "Schackgalerie"},
                {"key": "k", "auspraegung": "Städtische Galerie im Lenbachhaus"}
              ]
            },
            "key": "key",
            "fields": ["auspraegung"]
          }
        }
      ],
      "mark": {"type": "line", "strokeWidth": 2.85, "invalid": "break-paths-filter-domains"},
      "encoding": {
        "x": {
          "field": "m",
          "type": "temporal",
          "scale": {
            "type": "utc",
            "domain": [{"year": 1998, "month": 9, "date": 1, "utc": true}, {"year": 2028, "month": 3, "date": 29, "utc": true}],
            "nice": false
          },
          "axis": {
            "orient": "bottom",
            "values": [{"year": 2000, "utc": true}, {"year": 2010, "utc": true}, {"year": 2020, "utc": true}],
            "format": "%Y",
            "formatType": "utc",
            "grid": true,
            "gridWidth": 2.85,
            "labelFlush": false,
            "title": "monat_fix"
          }
        },
        "y": {
          "field": "wert",
          "type": "quantitative",
          "scale": {"domain": [-54500, 1144500], "nice": false, "zero": false},
          "axis": {
            "orient": "left",
            "values": [0, 300000, 600000, 900000],
            "labelExpr": "datum.value === 0 ? '0e+00' : format(datum.value / 100000, 'd') + 'e+05'",
            "grid": true,
            "gridWidth": 2.85,
            "title": "wert",
            "titlePadding": 12.3
          }
        },
        "color": {
          "field": "auspraegung",
          "type": "nominal",
          "scale": {
            "domain": ["Alte Pinakothek", "Bayerisches Nationalmuseum", "Deutsches Museum - Museumsinsel", "Deutsches Museum - Verkehrszentrum", "Münchner Stadtmuseum", "Museum Brandhorst", "Museum Mensch und Natur", "Neue Pinakothek", "Pinakothek der Moderne", "Schackgalerie", "Städtische Galerie im Lenbachhaus"],
            "range": ["#F8766D", "#DB8E00", "#AEA200", "#64B200", "#00BD5C", "#00C1A7", "#00BADE", "#00A6FF", "#B385FF", "#EF67EB", "#FF63B6"]
          },
          "legend": {
            "orient": "none",
            "legendX": 1294.4,
            "legendY": 159,
            "title": "auspraegung",
            "titleFont": "Liberation Sans",
            "titleFontSize": 29.3,
            "titleFontWeight": "normal",
            "titleColor": "black",
            "titlePadding": 11.5,
            "labelFont": "Liberation Sans",
            "labelFontSize": 23.5,
            "labelColor": "black",
            "labelOffset": 14,
            "labelLimit": 800,
            "labelBaseline": "middle",
            "symbolType": "M-0.78,0H0.78",
            "symbolSize": 2116,
            "symbolStrokeWidth": 2.85,
            "rowPadding": 9.9,
            "padding": 0
          }
        }
      }
    }
  ],
  "resolve": {"axis": {"x": "independent", "y": "independent"}}
}
